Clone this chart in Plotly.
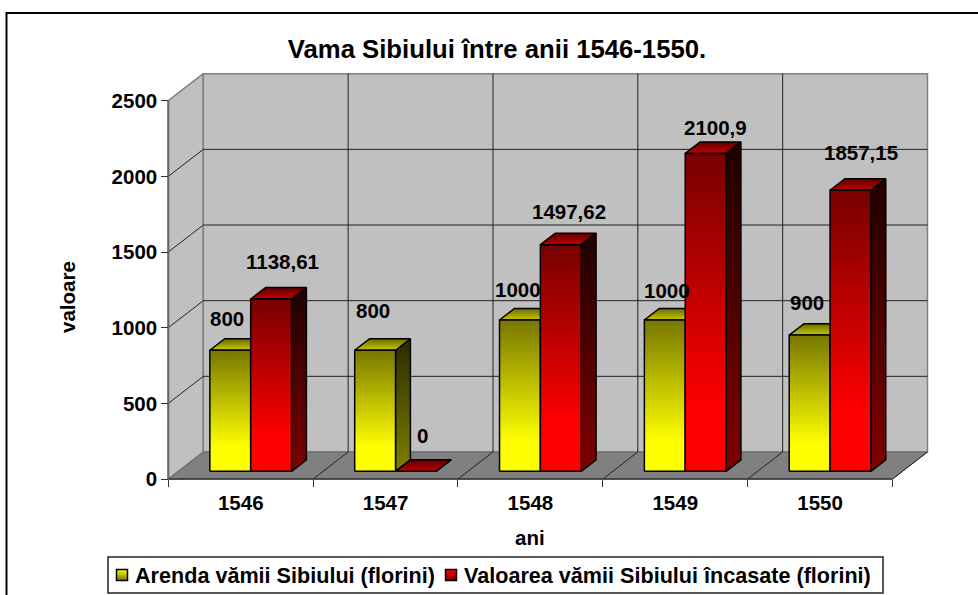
import plotly.graph_objects as go

years = ["1546", "1547", "1548", "1549", "1550"]
arenda = [800, 800, 1000, 1000, 900]
valoare = [1138.61, 0, 1497.62, 2100.9, 1857.15]
arenda_labels = ["800", "800", "1000", "1000", "900"]
valoare_labels = ["1138,61", "0", "1497,62", "2100,9", "1857,15"]
series_names = ["Arenda vămii Sibiului (florini)", "Valoarea vămii Sibiului încasate (florini)"]
y_ticks = [0, 500, 1000, 1500, 2000, 2500]

# styling / geometry
FONT = "Liberation Sans"
W, H = 978, 595
L, R, T, B = 168.3, 892.5, 100.7, 479.0
YMAX = 2500
DEPTH_X, DEPTH_Y, PAD = 35.0, 27.0, 3.0
n = len(years)
px_per_cat = (R - L) / n
px_per_val = (B - T) / YMAX
DX = DEPTH_X / px_per_cat
DY = DEPTH_Y / px_per_val
FRONT, BACK = 0.285, 0.71
GAP = 0.218
BW = (1 - 2 * GAP) / 2

# label offsets in pixels from the bar's front top centre
arenda_off = [(-3, 32), (-2, 40), (-2, 30), (2, 29), (-3, 33)]
valoare_off = [(11, 38), (7, 36), (8, 33), (10, 26), (11, 38)]

def P(x, v, d):
    return x + d * DX, v + d * DY

def poly(points, colorscale=None, fill=None, line="#000000", lw=1.5, name=None):
    xs = [p[0] for p in points] + [points[0][0]]
    ys = [p[1] for p in points] + [points[0][1]]
    kw = dict(x=xs, y=ys, mode="lines", showlegend=False, hoverinfo="skip",
              line=dict(color=line, width=lw), fill="toself")
    if colorscale:
        kw["fillgradient"] = dict(type="vertical", colorscale=colorscale)
    else:
        kw["fillcolor"] = fill
    if name:
        kw["name"] = name
    return go.Scatter(**kw)

def lines(segments, color, width):
    xs, ys = [], []
    for a, b in segments:
        xs += [a[0], b[0], None]
        ys += [a[1], b[1], None]
    return go.Scatter(x=xs, y=ys, mode="lines", showlegend=False, hoverinfo="skip",
                      line=dict(color=color, width=width))

def scale(bottom, top, split=0.2):
    return [[0, bottom], [split, bottom], [1, top]]

YEL = dict(front=scale("#ffff00", "#777700"), side=scale("#808000", "#2a2a00", 0.0),
           top=scale("#c8c800", "#6a6a00", 0.0))
RED = dict(front=scale("#ff0000", "#780000"), side=scale("#800000", "#200000", 0.0),
           top=scale("#c00000", "#600000", 0.0))

fig = go.Figure()
WALL, FLOOR, EDGE = "#c0c0c0", "#808080", "#808080"
fig.add_trace(poly([P(0, 0, 0), P(0, 0, 1), P(0, YMAX, 1), P(0, YMAX, 0)], fill=WALL, line=EDGE, lw=1.5))
fig.add_trace(poly([P(0, 0, 1), P(n, 0, 1), P(n, YMAX, 1), P(0, YMAX, 1)], fill=WALL, line=EDGE, lw=1.5))
fig.add_trace(poly([P(0, 0, 0), P(n, 0, 0), P(n, 0, 1), P(0, 0, 1)], fill=FLOOR, line="#666666", lw=1))
segs = []
for v in y_ticks[1:-1]:
    segs.append((P(0, v, 0), P(0, v, 1)))
    segs.append((P(0, v, 1), P(n, v, 1)))
for i in range(1, n):
    segs.append((P(i, 0, 1), P(i, YMAX, 1)))
for i in range(1, n + 1):
    segs.append((P(i, 0, 0), P(i, 0, 1)))
fig.add_trace(lines(segs, "#222222", 1))
fig.add_trace(lines([(P(0, 0, 0), P(0, YMAX, 0))], "#666666", 2))
fig.add_trace(lines([(P(0, 0, 0), P(n, 0, 0))], "#333333", 1.5))

def bar(x0, val, st, name):
    x1 = x0 + BW
    if val > 0:
        fig.add_trace(poly([P(x1, 0, FRONT), P(x1, 0, BACK), P(x1, val, BACK), P(x1, val, FRONT)],
                           colorscale=st["side"], name=name))
    fig.add_trace(poly([P(x0, val, FRONT), P(x1, val, FRONT), P(x1, val, BACK), P(x0, val, BACK)],
                       colorscale=st["top"], name=name))
    if val > 0:
        fig.add_trace(poly([P(x0, 0, FRONT), P(x1, 0, FRONT), P(x1, val, FRONT), P(x0, val, FRONT)],
                           colorscale=st["front"], name=name))

for i in range(n):
    bar(i + GAP, arenda[i], YEL, series_names[0])
    bar(i + GAP + BW, valoare[i], RED, series_names[1])

# legend swatches on an overlay axis pair measured in page pixels
for sx, c0, c1, name in [(122, "#ffff00", "#777700", series_names[0]), (451, "#ff0000", "#780000", series_names[1])]:
    fig.add_trace(go.Scatter(x=[sx], y=[575], xaxis="x2", yaxis="y2", mode="markers", name=name, showlegend=False,
                             hoverinfo="skip",
                             marker=dict(symbol="square", size=11, color=c0,
                                         gradient=dict(type="vertical", color=c1),
                                         line=dict(color="#000000", width=1.5))))

bold = dict(family=FONT, size=20.5, color="#000000", weight="bold")
ann = []
for i in range(n):
    cx, cy = P(i + GAP + BW / 2, arenda[i], FRONT)
    ann.append(dict(x=cx, y=cy, xref="x", yref="y", text=arenda_labels[i], showarrow=False, font=bold,
                    xanchor="center", yanchor="middle", xshift=arenda_off[i][0], yshift=arenda_off[i][1]))
    cx, cy = P(i + GAP + 1.5 * BW, valoare[i], FRONT)
    ann.append(dict(x=cx, y=cy, xref="x", yref="y", text=valoare_labels[i], showarrow=False, font=bold,
                    xanchor="center", yanchor="middle", xshift=valoare_off[i][0], yshift=valoare_off[i][1]))

def PXF(x): return x / W
def PYF(y): return 1 - y / H

leg_font = dict(family=FONT, size=21.6, color="#000000", weight="bold")
ann.append(dict(x=PXF(530), y=PYF(537), xref="paper", yref="paper", text="ani", showarrow=False, font=bold,
                xanchor="center", yanchor="middle"))
ann.append(dict(x=PXF(67), y=PYF(297), xref="paper", yref="paper", text="valoare", showarrow=False,
                textangle=-90, font=bold, xanchor="center", yanchor="middle"))
ann.append(dict(x=PXF(133), y=PYF(575), xref="paper", yref="paper", xanchor="left", yanchor="middle",
                text=series_names[0], showarrow=False, font=leg_font))
ann.append(dict(x=PXF(462), y=PYF(575), xref="paper", yref="paper", xanchor="left", yanchor="middle",
                text=series_names[1], showarrow=False, font=leg_font))

frame = dict(type="path", xref="paper", yref="paper", line=dict(color="#000000", width=2),
             path=f"M {PXF(6.5)} {PYF(H + 5)} L {PXF(6.5)} {PYF(13)} L {PXF(W + 5)} {PYF(13)}")
legend_box = dict(type="rect", xref="paper", yref="paper", x0=PXF(108), x1=PXF(883), y0=PYF(593), y1=PYF(557),
                  line=dict(color="#222222", width=1.5), fillcolor="rgba(0,0,0,0)")

fig.update_layout(
    width=W, height=H, autosize=False,
    margin=dict(l=0, r=0, t=0, b=0, pad=0),
    paper_bgcolor="#ffffff", plot_bgcolor="rgba(0,0,0,0)",
    font=dict(family=FONT, color="#000000"),
    showlegend=False,
    title=dict(text="Vama Sibiului între anii 1546-1550.", x=497 / W, xanchor="center", xref="paper",
               y=1 - 49 / H, yanchor="middle", font=dict(family=FONT, size=25.7, color="#000000", weight="bold")),
    xaxis=dict(range=[-PAD / px_per_cat, n + DX + PAD / px_per_cat],
               domain=[(L - PAD) / W, (R + DEPTH_X + PAD) / W], anchor="free", position=1 - B / H,
               tickmode="array", tickvals=[i + 0.5 for i in range(n)], ticktext=years,
               ticks="", showgrid=False, zeroline=False, showline=False,
               tickfont=dict(family=FONT, size=20.5, weight="bold"), ticklabelstandoff=9, automargin=False,
               minor=dict(tickmode="array", tickvals=list(range(n + 1)), ticks="outside", ticklen=7,
                          tickcolor="#333333", tickwidth=1, showgrid=False)),
    yaxis=dict(range=[-PAD / px_per_val, YMAX + DY + PAD / px_per_val],
               domain=[1 - (B + PAD) / H, 1 - (T - DEPTH_Y - PAD) / H], anchor="free", position=L / W,
               tickmode="array", tickvals=y_ticks, ticks="outside", ticklen=7, tickcolor="#333333",
               showgrid=False, zeroline=False, showline=False, automargin=False,
               tickfont=dict(family=FONT, size=20.5, weight="bold")),
    xaxis2=dict(range=[0, W], domain=[0, 1], anchor="y2", visible=False, fixedrange=True),
    yaxis2=dict(range=[H, 0], domain=[0, 1], anchor="x2", visible=False, fixedrange=True),
    annotations=ann,
    shapes=[frame, legend_box],
)

fig.write_html("out.html", config=dict(displayModeBar=False),
               post_script="document.body.style.margin='0';document.body.style.overflow='hidden';")
